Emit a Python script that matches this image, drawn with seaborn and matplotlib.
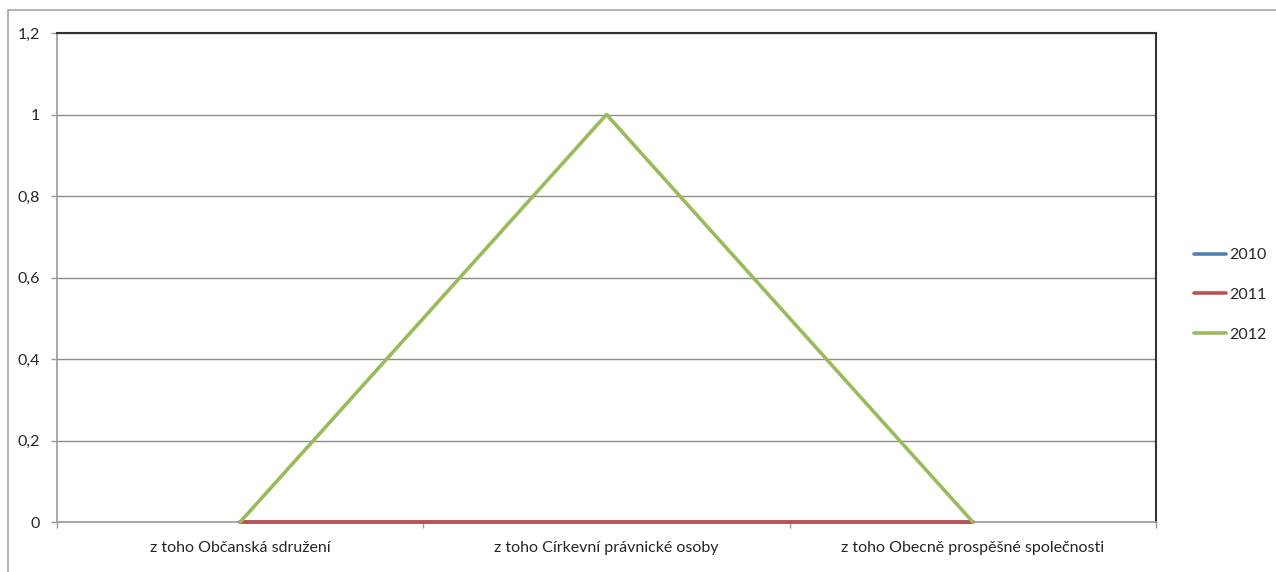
import pandas as pd
import matplotlib.pyplot as plt
import matplotlib.ticker as mticker
from matplotlib.patches import Rectangle
import seaborn as sns

categories = ['z toho Občanská sdružení', 'z toho Církevní právnické osoby',
              'z toho Obecně prospěšné společnosti']
years = ['2010', '2011', '2012']
values_2010 = [0, 0, 0]
values_2011 = [0, 0, 0]
values_2012 = [0, 1, 0]
y_ticks = [0, 0.2, 0.4, 0.6, 0.8, 1.0, 1.2]
colors = ['#4F81BD', '#C0504D', '#9BBB59']

rows = []
for year, vals in zip(years, [values_2010, values_2011, values_2012]):
    for i, v in enumerate(vals):
        rows.append({'pos': i, 'value': v, 'year': year})
df = pd.DataFrame(rows)

sns.set_style('white')
plt.rcParams['font.family'] = ['Lato', 'DejaVu Sans']

fig = plt.figure(figsize=(12.76, 5.72), dpi=100)
ax = fig.add_axes([57 / 1276, 50 / 572, (1156 - 57) / 1276, (522 - 33) / 572])

sns.lineplot(data=df, x='pos', y='value', hue='year', palette=colors,
             linewidth=2.6, ax=ax, legend=True)
for line in ax.lines:
    line.set_clip_on(False)
    line.set_zorder(3)

ax.set_xlim(-0.5, 2.5)
ax.set_ylim(0, 1.2)
ax.set_yticks(y_ticks)
ax.yaxis.set_major_formatter(mticker.FuncFormatter(
    lambda v, p: ('%g' % v).replace('.', ',')))
ax.set_xticks([-0.5, 0.5, 1.5, 2.5])
ax.set_xticklabels([])
ax.set_xticks([0, 1, 2], minor=True)
ax.set_xticklabels(categories, minor=True)
ax.tick_params(axis='x', which='minor', bottom=False, length=0, pad=14, labelsize=11.5)
ax.tick_params(axis='x', which='major', bottom=True, length=4, width=1,
               color='#999999', direction='out')
ax.tick_params(axis='y', left=True, length=4, width=1, color='#999999',
               direction='out', pad=8, labelsize=11.5)
ax.set_xlabel('')
ax.set_ylabel('')
ax.grid(axis='y', color='#8c8c8c', linewidth=1)
ax.set_axisbelow(True)

for side in ['left', 'bottom']:
    ax.spines[side].set_color('#999999')
    ax.spines[side].set_linewidth(1.2)
for side in ['top', 'right']:
    ax.spines[side].set_color('#333333')
    ax.spines[side].set_linewidth(1.5)

ax.legend(title=None, frameon=False, loc='center left',
          bbox_to_anchor=(1180 / 1276, 277 / 572), bbox_transform=fig.transFigure,
          fontsize=11.5, handlelength=2.0, handletextpad=0.2, labelspacing=1.6)

# outer chart frame
fig.patches.append(Rectangle((8 / 1276, -0.1), 1.2, (562 / 572) + 0.1,
                             transform=fig.transFigure, fill=False,
                             edgecolor='#a6a6a6', linewidth=1.2))

plt.savefig('out.png', dpi=100)
